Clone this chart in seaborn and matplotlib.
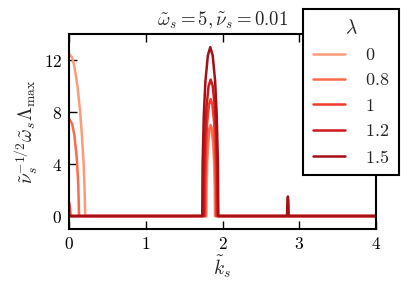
import matplotlib
matplotlib.use("Agg")
import matplotlib.pyplot as plt
import seaborn as sns
import pandas as pd

# ---- data ----
lambdas = ["0", "0.8", "1", "1.2", "1.5"]

k_l0 = [0, 0.04, 0.07, 0.11, 0.145, 0.17, 0.19, 0.203, 0.21,
        1.79, 1.793, 1.801, 1.812, 1.8285, 1.845, 1.8615, 1.878, 1.889, 1.897, 1.90, 4.0]
v_l0 = [12.5, 12.2, 11.5, 10.0, 8.0, 6.0, 4.0, 2.0, 0,
        0, 2.1, 4.1, 5.4, 6.5, 6.8, 6.5, 5.4, 4.1, 2.1, 0, 0]

k_l08 = [0, 0.04, 0.07, 0.1, 0.12, 0.13,
         1.78, 1.783, 1.793, 1.806, 1.8255, 1.845, 1.8645, 1.884, 1.897, 1.907, 1.91, 4.0]
v_l08 = [7.5, 7.1, 6.2, 4.5, 2.5, 0,
         0, 2.2, 4.2, 5.6, 6.65, 7.0, 6.65, 5.6, 4.2, 2.2, 0, 0]

k_l1 = [0, 0.01, 0.02,
        1.77, 1.774, 1.785, 1.80, 1.8225, 1.845, 1.8675, 1.89, 1.905, 1.916, 1.92, 4.0]
v_l1 = [1.1, 0.7, 0,
        0, 2.8, 5.4, 7.2, 8.55, 9.0, 8.55, 7.2, 5.4, 2.8, 0, 0]

k_l12 = [0, 1.755, 1.76, 1.773, 1.791, 1.818, 1.845, 1.872, 1.899, 1.917, 1.93, 1.935, 4.0]
v_l12 = [0, 0, 3.3, 6.3, 8.4, 10.0, 10.5, 10.0, 8.4, 6.3, 3.3, 0, 0]

k_l15 = [0, 1.735, 1.74, 1.756, 1.777, 1.8085, 1.84, 1.8715, 1.903, 1.924, 1.94, 1.945,
         2.84, 2.845, 2.851, 2.857, 2.862, 4.0]
v_l15 = [0, 0, 4.0, 7.8, 10.4, 12.35, 13.0, 12.35, 10.4, 7.8, 4.0, 0,
         0, 1.2, 1.5, 1.2, 0, 0]

colors = ["#fc9a7a", "#fb6a4a", "#ef3b2c", "#cb181d", "#a50f15"]
xticks = [0, 1, 2, 3, 4]
yticks = [0, 4, 8, 12]

frames = []
for lam, ks, vs in zip(lambdas, [k_l0, k_l08, k_l1, k_l12, k_l15],
                       [v_l0, v_l08, v_l1, v_l12, v_l15]):
    frames.append(pd.DataFrame({"k": ks, "v": vs, "lam": lam}))
df = pd.concat(frames, ignore_index=True)

sns.set_style("ticks")
plt.rcParams.update({
    "font.family": "serif",
    "font.serif": ["cmr10"],
    "mathtext.fontset": "cm",
    "axes.formatter.use_mathtext": True,
    "axes.unicode_minus": False,
    "axes.edgecolor": "black",
    "axes.linewidth": 1.5,
    "xtick.color": "black",
    "ytick.color": "black",
    "xtick.direction": "in",
    "ytick.direction": "in",
    "xtick.top": True,
    "ytick.right": True,
})

fig = plt.figure(figsize=(4.11, 2.94), dpi=100)
ax = fig.add_axes([0.168, 0.221, 0.747, 0.663])

sns.lineplot(data=df, x="k", y="v", hue="lam", hue_order=lambdas, palette=colors,
             estimator=None, sort=False, linewidth=1.8, ax=ax)

ax.set_xlim(0, 4)
ax.set_ylim(-1, 14)
ax.set_xticks(xticks)
ax.set_yticks(yticks)
ax.set_xticklabels([f"${t}$" for t in xticks])
ax.set_yticklabels([f"${t}$" for t in yticks])
ax.tick_params(axis="both", which="major", length=6, width=1.0, labelsize=12.5, pad=5)
ax.set_xlabel(r"$\tilde{k}_s$", fontsize=14, labelpad=1)
ax.set_ylabel(r"$\tilde{\nu}_s^{-1/2}\tilde{\omega}_s\Lambda_{\max}$", fontsize=14, labelpad=3)
ax.set_title(r"$\tilde{\omega}_s = 5, \tilde{\nu}_s = 0.01$", fontsize=13.5, pad=6)

leg = ax.legend(title=r"$\lambda$", loc="upper left", bbox_to_anchor=(0.762, 1.128),
                borderaxespad=0, fancybox=False, framealpha=1, edgecolor="black",
                fontsize=13, title_fontsize=14, handlelength=1.8, handletextpad=1.1,
                labelspacing=0.52, borderpad=0.55)
leg.get_frame().set_linewidth(1.5)
for t in leg.get_texts():
    t.set_text(f"${t.get_text()}$")
for h in leg.get_lines():
    h.set_linewidth(1.8)

fig.savefig("out.png", dpi=100)
